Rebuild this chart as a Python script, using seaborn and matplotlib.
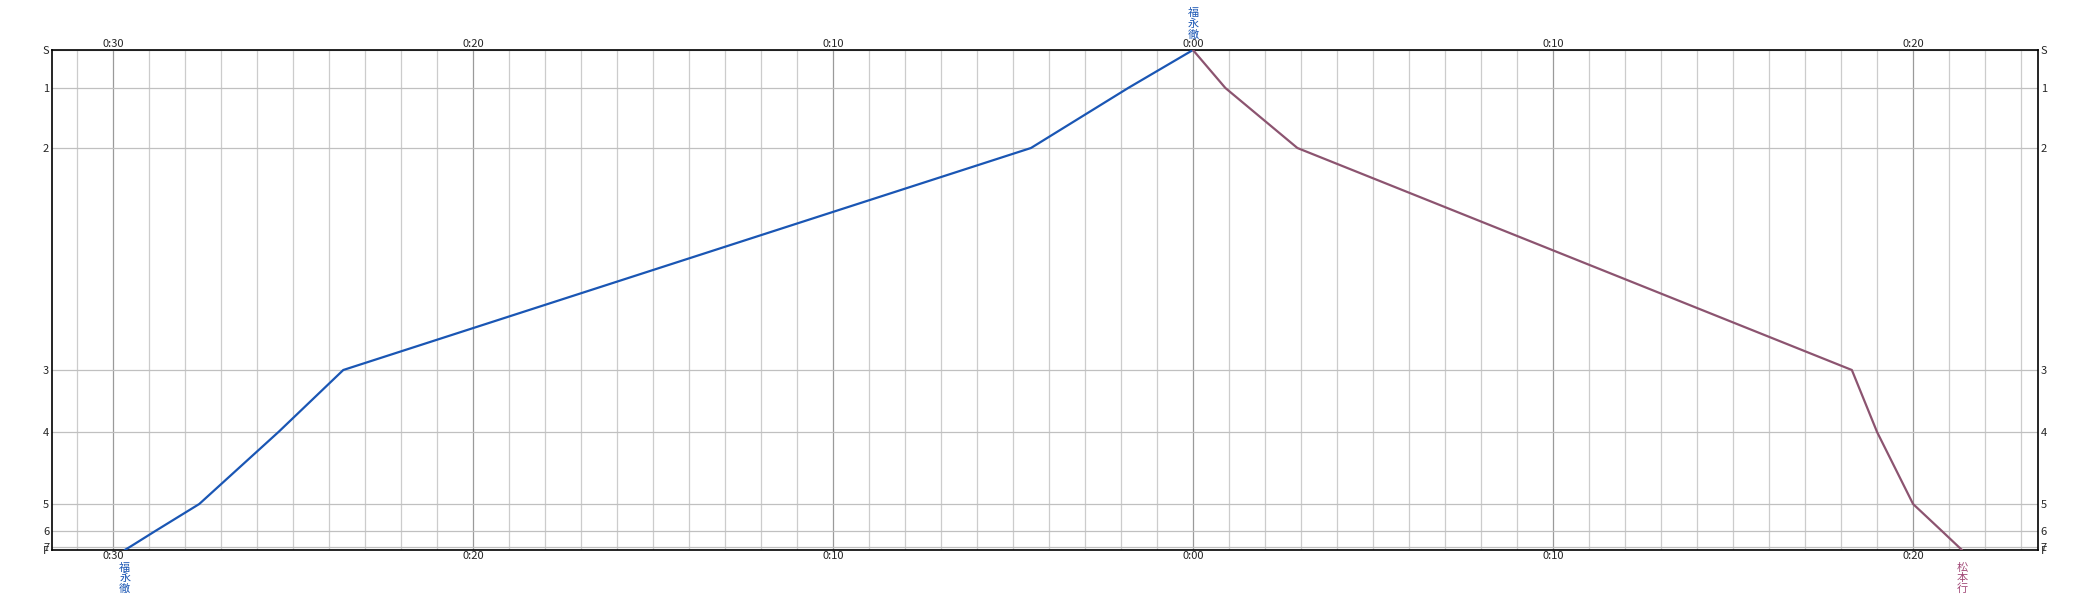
import numpy as np
import pandas as pd
import matplotlib
matplotlib.use("Agg")
import matplotlib.pyplot as plt
import seaborn as sns

# stations (distance from S, top to bottom)
stations = ["S", "1", "2", "3", "4", "5", "6", "7", "F"]
station_km = [0.0, 3.8, 9.8, 32.0, 38.2, 45.4, 48.1, 49.7, 50.0]

# up train: F -> S, minutes relative to arrival at S
up_stations = ["F", "7", "6", "5", "4", "3", "2", "1", "S"]
up_minutes = [-29.67, -29.53, -28.82, -27.6, -25.4, -23.6, -4.5, -1.8, 0.0]

# down train: S -> F, minutes after departure from S
down_stations = ["S", "1", "2", "3", "4", "5", "6", "7", "F"]
down_minutes = [0.0, 0.9, 2.9, 18.3, 19.0, 20.0, 20.8, 21.27, 21.36]

up_label = "福永徹"
down_label = "松本行"
up_color = "#1a56b4"
down_color = "#8c5470"
down_text_color = "#a24a78"

km = dict(zip(stations, station_km))
df = pd.concat([
    pd.DataFrame({"train": "up", "t": up_minutes, "km": [km[s] for s in up_stations]}),
    pd.DataFrame({"train": "down", "t": down_minutes, "km": [km[s] for s in down_stations]}),
])

sns.set_style("white")
plt.rcParams["font.family"] = ["Noto Sans CJK JP", "DejaVu Sans"]

fig = plt.figure(figsize=(20.9, 6), dpi=100)
ax = fig.add_axes([52 / 2090, 50 / 600, 1986 / 2090, 500 / 600])

sns.lineplot(data=df, x="t", y="km", hue="train", palette={"up": up_color, "down": down_color},
             sort=False, estimator=None, linewidth=1.6, legend=False, ax=ax, zorder=3)

ax.set_xlim(-31.69, 23.47)
ax.set_ylim(station_km[-1], 0)

# grid: every minute light, every 10 minutes darker
ax.set_xticks(np.arange(-31, 24, 1), minor=True)
ax.set_xticks(np.arange(-30, 21, 10))
ax.set_xticklabels([f"0:{abs(v):02d}" for v in np.arange(-30, 21, 10)])
ax.grid(True, which="minor", axis="x", color="#cccccc", lw=0.9)
ax.grid(True, which="major", axis="x", color="#9a9a9a", lw=0.9)
ax.set_yticks(station_km)
ax.set_yticklabels(stations)
ax.grid(True, which="major", axis="y", color="#c0c0c0", lw=0.9)
ax.set_axisbelow(True)

ax.tick_params(axis="x", which="both", length=0, labelsize=8, pad=1,
               top=True, labeltop=True, bottom=True, labelbottom=True)
ax.tick_params(axis="y", which="both", length=0, labelsize=8, pad=2,
               left=True, labelleft=True, right=True, labelright=True)
for s in ax.spines.values():
    s.set_color("black")
    s.set_linewidth(1.2)
ax.set_xlabel("")
ax.set_ylabel("")

# train labels, written vertically
ax.annotate("\n".join(up_label), xy=(up_minutes[0], 0), xycoords=("data", "axes fraction"),
            xytext=(0, -9), textcoords="offset points", color=up_color, fontsize=8,
            ha="center", va="top", linespacing=1.05, annotation_clip=False)
ax.annotate("\n".join(up_label), xy=(up_minutes[-1], 1), xycoords=("data", "axes fraction"),
            xytext=(0, 7.5), textcoords="offset points", color=up_color, fontsize=8,
            ha="center", va="bottom", linespacing=1.05, annotation_clip=False)
ax.annotate("\n".join(down_label), xy=(down_minutes[-1], 0), xycoords=("data", "axes fraction"),
            xytext=(0, -9), textcoords="offset points", color=down_text_color, fontsize=8,
            ha="center", va="top", linespacing=1.05, annotation_clip=False)

fig.savefig("out.png", dpi=100)
